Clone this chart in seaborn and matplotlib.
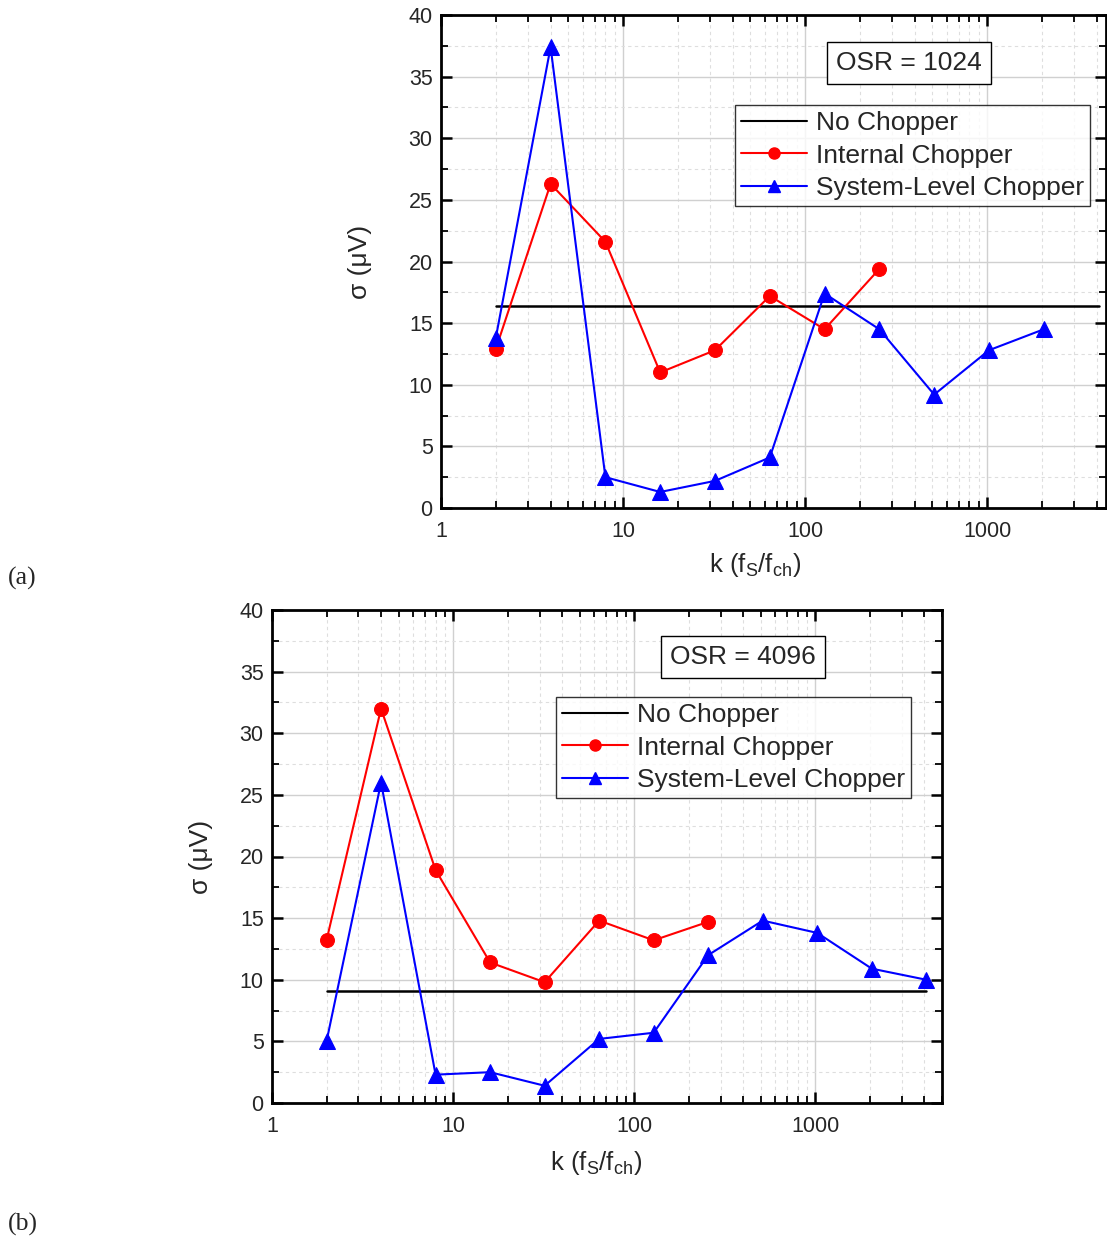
import numpy as np
import pandas as pd
import matplotlib
matplotlib.use("Agg")
import matplotlib.pyplot as plt
from matplotlib.lines import Line2D
from matplotlib.ticker import FixedLocator, MultipleLocator, LogLocator, NullFormatter, FixedFormatter
import seaborn as sns

sns.set_theme(style="white")
plt.rcParams['font.family'] = ['Liberation Sans', 'DejaVu Sans']
plt.rcParams['mathtext.fontset'] = 'custom'
plt.rcParams['mathtext.rm'] = 'Liberation Sans'

# chopping ratio k = fS / fch
k_internal = [2, 4, 8, 16, 32, 64, 128, 256]
k_system_a = [2, 4, 8, 16, 32, 64, 128, 256, 512, 1024, 2048]
k_system_b = [2, 4, 8, 16, 32, 64, 128, 256, 512, 1024, 2048, 4096]
k_span = [2, 4096]

# OSR = 1024 (a)
internal_a = [12.9, 26.3, 21.6, 11.0, 12.8, 17.2, 14.5, 19.4]
system_a = [13.8, 37.4, 2.5, 1.3, 2.2, 4.1, 17.4, 14.5, 9.2, 12.8, 14.5]
no_chopper_a = 16.4

# OSR = 4096 (b)
internal_b = [13.2, 32.0, 18.9, 11.4, 9.8, 14.8, 13.2, 14.7]
system_b = [5.0, 26.0, 2.3, 2.5, 1.4, 5.2, 5.7, 12.0, 14.8, 13.8, 10.9, 10.0]
no_chopper_b = 9.1

W, H = 1107, 1239
fig = plt.figure(figsize=(W / 100, H / 100), dpi=100)

def px_axes(left, top, right, bottom):
    return fig.add_axes([left / W, 1 - bottom / H, (right - left) / W, (bottom - top) / H])

ax_a = px_axes(441, 15, 1106, 508)
ax_b = px_axes(272, 610, 942, 1103)

def draw_panel(ax, k_sys, internal, system, flat, osr, xmax, leg_box, osr_box,
               xlabel_pos, ylabel_x):
    sns.lineplot(x=k_span, y=[flat, flat], ax=ax, color='black', lw=1.8,
                 estimator=None, sort=False, zorder=3)
    sns.lineplot(x=k_internal, y=internal, ax=ax, color='#ff0000', lw=1.5,
                 marker='o', markersize=10, markeredgecolor='#ff0000',
                 estimator=None, sort=False, zorder=4)
    sns.lineplot(x=k_sys, y=system, ax=ax, color='#0000ff', lw=1.5,
                 marker='^', markersize=12, markeredgecolor='#0000ff',
                 estimator=None, sort=False, zorder=5)
    ax.set_xscale('log')
    ax.set_xlim(1, xmax)
    ax.set_ylim(0, 40)

    ax.xaxis.set_major_locator(FixedLocator([1, 10, 100, 1000]))
    ax.xaxis.set_major_formatter(FixedFormatter(['1', '10', '100', '1000']))
    ax.xaxis.set_minor_locator(LogLocator(base=10, subs=np.arange(2, 10), numticks=20))
    ax.xaxis.set_minor_formatter(NullFormatter())
    ax.yaxis.set_major_locator(MultipleLocator(5))
    ax.yaxis.set_minor_locator(MultipleLocator(2.5))

    ax.grid(True, which='major', color='#d0d0d0', lw=1.0, ls='-')
    ax.grid(True, which='minor', color='#dedede', lw=0.8, ls=(0, (3, 3)))
    ax.set_axisbelow(True)

    for s in ax.spines.values():
        s.set_color('black')
        s.set_linewidth(2.0)
    ax.tick_params(which='both', direction='in', top=True, right=True,
                   bottom=True, left=True, color='black', labelsize=15.5)
    ax.tick_params(axis='x', which='major', pad=9)
    ax.tick_params(axis='y', which='major', pad=6)
    ax.tick_params(which='major', length=8, width=1.8)
    ax.tick_params(which='minor', length=5, width=1.3)

    ax.set_xlabel(r'k (f$_\mathregular{S}$/f$_\mathregular{ch}$)', fontsize=18.5)
    ax.set_ylabel('σ (μV)', fontsize=19)
    pos = ax.get_position()
    lx, ly = xlabel_pos
    ax.xaxis.set_label_coords((lx / W - pos.x0) / pos.width,
                              ((1 - ly / H) - pos.y0) / pos.height)
    ax.yaxis.set_label_coords((ylabel_x / W - pos.x0) / pos.width, 0.5)
    ax.xaxis.label.set_va('center')
    ax.yaxis.label.set_va('center')

    handles = [
        Line2D([], [], color='black', lw=1.5),
        Line2D([], [], color='#ff0000', lw=1.5, marker='o', markersize=8),
        Line2D([], [], color='#0000ff', lw=1.5, marker='^', markersize=9),
    ]
    labels = ['No Chopper', 'Internal Chopper', 'System-Level Chopper']
    bx0, by0, bx1, by1 = leg_box
    fx = (bx0 / W - pos.x0) / pos.width
    fy = ((1 - by0 / H) - pos.y0) / pos.height
    leg = ax.legend(handles, labels, loc='upper left', bbox_to_anchor=(fx, fy),
                    fontsize=19, frameon=True, fancybox=False, shadow=False,
                    handlelength=2.5, handletextpad=0.34, borderpad=0.22,
                    labelspacing=0.33, borderaxespad=0)
    leg.get_frame().set_edgecolor('black')
    leg.get_frame().set_linewidth(1.0)
    leg.set_zorder(10)

    ox, oy = osr_box
    tx = (ox / W - pos.x0) / pos.width
    ty = ((1 - oy / H) - pos.y0) / pos.height
    ax.text(tx, ty, f'OSR = {osr}', transform=ax.transAxes, fontsize=19,
            ha='center', va='center', zorder=11,
            bbox=dict(boxstyle='square,pad=0.35', fc='white', ec='black', lw=1.0))

draw_panel(ax_a, k_system_a, internal_a, system_a, no_chopper_a, 1024, 4500,
           (735, 105, 1090, 203), (909, 63), (755, 565), 360)
draw_panel(ax_b, k_system_b, internal_b, system_b, no_chopper_b, 4096, 5000,
           (556, 697, 910, 794), (743, 657), (596, 1163), 201)

fig.text(8 / W, 1 - 578 / H, '(a)', fontsize=18.5, family='Liberation Serif', va='center')
fig.text(8 / W, 1 - 1224 / H, '(b)', fontsize=18.5, family='Liberation Serif', va='center')

fig.savefig('out.png', dpi=100, facecolor='white')
